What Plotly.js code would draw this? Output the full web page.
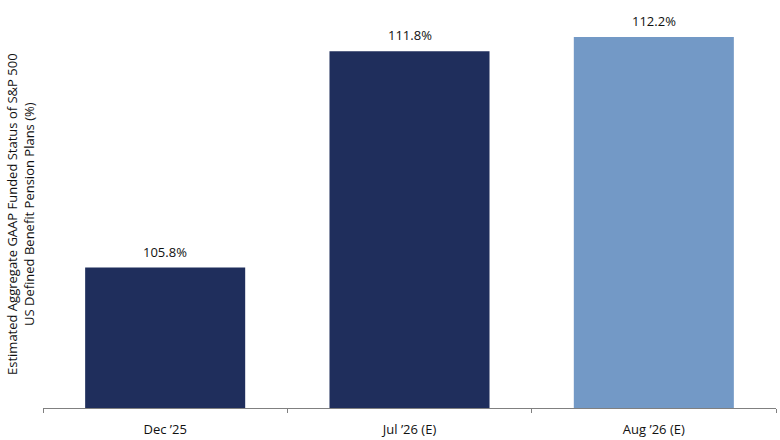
<!DOCTYPE html>
<html>
<head>
<meta charset="utf-8">
<script src="https://cdn.plot.ly/plotly-3.0.1.min.js"></script>
<style>
  html, body { margin: 0; padding: 0; background: #fff; }
  #chart { width: 780px; height: 440px; }
</style>
</head>
<body>
<div id="chart"></div>
<script>
// Funded status values (%)
const periods = ['Dec \u201925', 'Jul \u201926 (E)', 'Aug \u201926 (E)'];
const fundedStatus = [105.8, 111.8, 112.2];
const barColors = ['#1f2e5c', '#1f2e5c', '#7399c6'];

const bars = {
    type: 'bar',
    x: periods,
    y: fundedStatus,
    marker: { color: barColors, line: { width: 0 } },
    hoverinfo: 'skip',
    showlegend: false
};

// value labels above each bar
const valueLabels = periods.map((p, i) => ({
    x: p, y: fundedStatus[i],
    xref: 'x', yref: 'y',
    text: fundedStatus[i].toFixed(1) + '%',
    showarrow: false,
    yanchor: 'bottom',
    yshift: 5,
    font: { family: 'Open Sans', size: 13, color: '#111' }
}));

const layout = {
    width: 780,
    height: 440,
    margin: { t: 20, b: 32, l: 43, r: 4 },
    paper_bgcolor: '#fff',
    plot_bgcolor: '#fff',
    bargap: 0.345,
    font: { family: 'Open Sans', size: 13, color: '#111' },
    xaxis: {
        showline: true,
        linecolor: '#808080',
        linewidth: 1,
        ticks: 'outside',
        ticklen: 4,
        tickcolor: '#808080',
        tickson: 'boundaries',
        ticklabelstandoff: 9,
        tickfont: { family: 'Open Sans', size: 13, color: '#111' },
        showgrid: false,
        zeroline: false,
        fixedrange: true
    },
    yaxis: {
        range: [101.9, 112.67],
        showticklabels: false,
        showgrid: false,
        zeroline: false,
        showline: false,
        ticks: '',
        fixedrange: true
    },
    annotations: [...valueLabels, {
        xref: 'paper', yref: 'paper',
        x: -0.0314, y: 0.5,
        xanchor: 'center', yanchor: 'middle',
        textangle: -90,
        showarrow: false,
        text: 'Estimated Aggregate GAAP Funded Status of S&P 500<br>US Defined Benefit Pension Plans (%)',
        font: { family: 'Open Sans', size: 13, color: '#111' }
    }]
};

Plotly.newPlot('chart', [bars], layout, { displayModeBar: false, staticPlot: true });
</script>
</body>
</html>
